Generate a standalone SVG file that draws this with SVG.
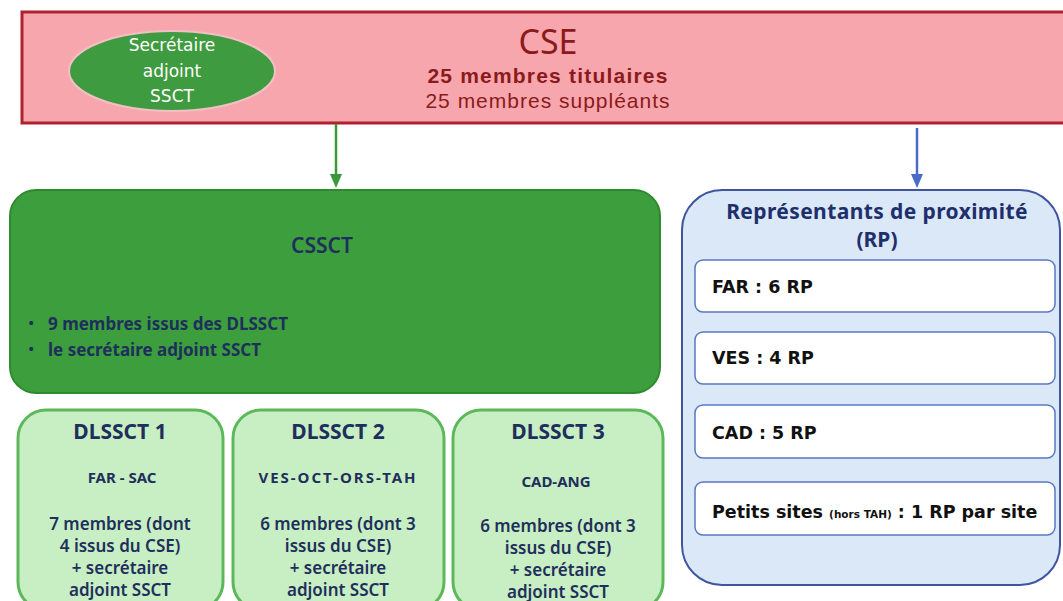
<svg xmlns="http://www.w3.org/2000/svg" width="1063" height="601" viewBox="0 0 1063 601">
<defs>
<style>
text{font-family:"Noto Sans","Open Sans",sans-serif}
.navy{fill:#1f2f5c}
.dl{fill:#c8eec3;stroke:#5cb85a;stroke-width:3}
.rp{fill:#fff;stroke:#5a78c0;stroke-width:1.5}
.rpt{font-family:"DejaVu Sans","Noto Sans",sans-serif;font-weight:bold;font-size:17.5px;fill:#111}
.dlt{font-size:17px;font-weight:600;fill:#1f2f5c;text-anchor:middle}
.dls{font-size:15px;font-weight:bold;fill:#1f2f5c;text-anchor:middle}
.el{font-family:"DejaVu Sans",sans-serif;font-size:17px;fill:#fff;text-anchor:middle}
.cs{font-family:"Liberation Sans",Arial,sans-serif;font-size:21px;fill:#8b1a1a;text-anchor:middle}
</style>
</defs>
<rect width="1063" height="601" fill="#fff"/>
<g id="cse">
<rect x="22" y="12" width="1050" height="111" fill="#f8a6ad" stroke="#b0202e" stroke-width="3"/>
<text x="548" y="54" font-size="34" fill="#8b1a1a" text-anchor="middle">CSE</text>
<text x="548" y="83" class="cs" font-weight="bold" letter-spacing="1.2">25 membres titulaires</text>
<text x="548" y="108" class="cs" letter-spacing="1">25 membres suppléants</text>
</g>
<g id="secretaire">
<ellipse cx="172" cy="71" rx="103" ry="40" fill="#3f9b3f" stroke="#f0c0c4" stroke-width="2"/>
<text x="172" y="51" class="el">Secrétaire</text>
<text x="172" y="77" class="el">adjoint</text>
<text x="172" y="102" class="el">SSCT</text>
</g>
<g id="connectors">
<line x1="336" y1="124" x2="336" y2="176" stroke="#3a9a3a" stroke-width="2.5"/>
<path d="M330,174 L342,174 L336,188 Z" fill="#3a9a3a"/>
<line x1="917" y1="128" x2="917" y2="176" stroke="#4a6cc8" stroke-width="2.5"/>
<path d="M911,174 L923,174 L917,188 Z" fill="#4a6cc8"/>
</g>
<g id="cssct">
<rect x="10" y="190" width="650" height="203" rx="26" fill="#3c9e3c" stroke="#2f8a2f" stroke-width="2"/>
<text x="322" y="253" font-size="21" font-weight="600" class="navy" text-anchor="middle">CSSCT</text>
<text x="28" y="329" font-size="17" class="navy">•</text>
<text x="48" y="330" font-size="17" font-weight="bold" class="navy">9 membres issus des DLSSCT</text>
<text x="28" y="355" font-size="17" class="navy">•</text>
<text x="48" y="356" font-size="17" font-weight="bold" class="navy">le secrétaire adjoint SSCT</text>
</g>
<g id="dlssct1">
<rect class="dl" x="18" y="410" width="205" height="200" rx="28"/>
<text x="120" y="439" font-size="21" font-weight="bold" class="navy" text-anchor="middle">DLSSCT 1</text>
<text x="122" y="483" class="dls">FAR - SAC</text>
<text x="120" y="530" class="dlt">7 membres (dont</text>
<text x="120" y="552" class="dlt">4 issus du CSE)</text>
<text x="120" y="574" class="dlt">+ secrétaire</text>
<text x="120" y="596" class="dlt">adjoint SSCT</text>
</g>
<g id="dlssct2">
<rect class="dl" x="233" y="410" width="211" height="200" rx="28"/>
<text x="338" y="439" font-size="21" font-weight="bold" class="navy" text-anchor="middle">DLSSCT 2</text>
<text x="338" y="483" class="dls" letter-spacing="2">VES-OCT-ORS-TAH</text>
<text x="338" y="530" class="dlt">6 membres (dont 3</text>
<text x="338" y="552" class="dlt">issus du CSE)</text>
<text x="338" y="574" class="dlt">+ secrétaire</text>
<text x="338" y="596" class="dlt">adjoint SSCT</text>
</g>
<g id="dlssct3">
<rect class="dl" x="453" y="410" width="210" height="200" rx="28"/>
<text x="558" y="439" font-size="21" font-weight="bold" class="navy" text-anchor="middle">DLSSCT 3</text>
<text x="556" y="487" class="dls">CAD-ANG</text>
<text x="558" y="532" class="dlt">6 membres (dont 3</text>
<text x="558" y="554" class="dlt">issus du CSE)</text>
<text x="558" y="576" class="dlt">+ secrétaire</text>
<text x="558" y="598" class="dlt">adjoint SSCT</text>
</g>
<g id="rp">
<rect x="682" y="190" width="378" height="395" rx="40" fill="#dae8f8" stroke="#3f55a0" stroke-width="2"/>
<text x="877" y="219" font-family="Lato,'Noto Sans',sans-serif" font-size="21" font-weight="bold" fill="#1f2f6c" text-anchor="middle" letter-spacing="0.4">Représentants de proximité</text>
<text x="877" y="247" font-family="Lato,'Noto Sans',sans-serif" font-size="21" font-weight="bold" fill="#1f2f6c" text-anchor="middle">(RP)</text>
</g>
<g id="rp-far"><rect class="rp" x="695" y="260" width="360" height="52" rx="8"/><text class="rpt" x="712" y="293">FAR : 6 RP</text></g>
<g id="rp-ves"><rect class="rp" x="695" y="332" width="360" height="52" rx="8"/><text class="rpt" x="712" y="364">VES : 4 RP</text></g>
<g id="rp-cad"><rect class="rp" x="695" y="405" width="360" height="53" rx="8"/><text class="rpt" x="712" y="439">CAD : 5 RP</text></g>
<g id="rp-petits"><rect class="rp" x="695" y="482" width="360" height="53" rx="8"/><text class="rpt" x="712" y="518">Petits sites <tspan font-size="10.5">(hors TAH)</tspan> : 1 RP par site</text></g>
</svg>
